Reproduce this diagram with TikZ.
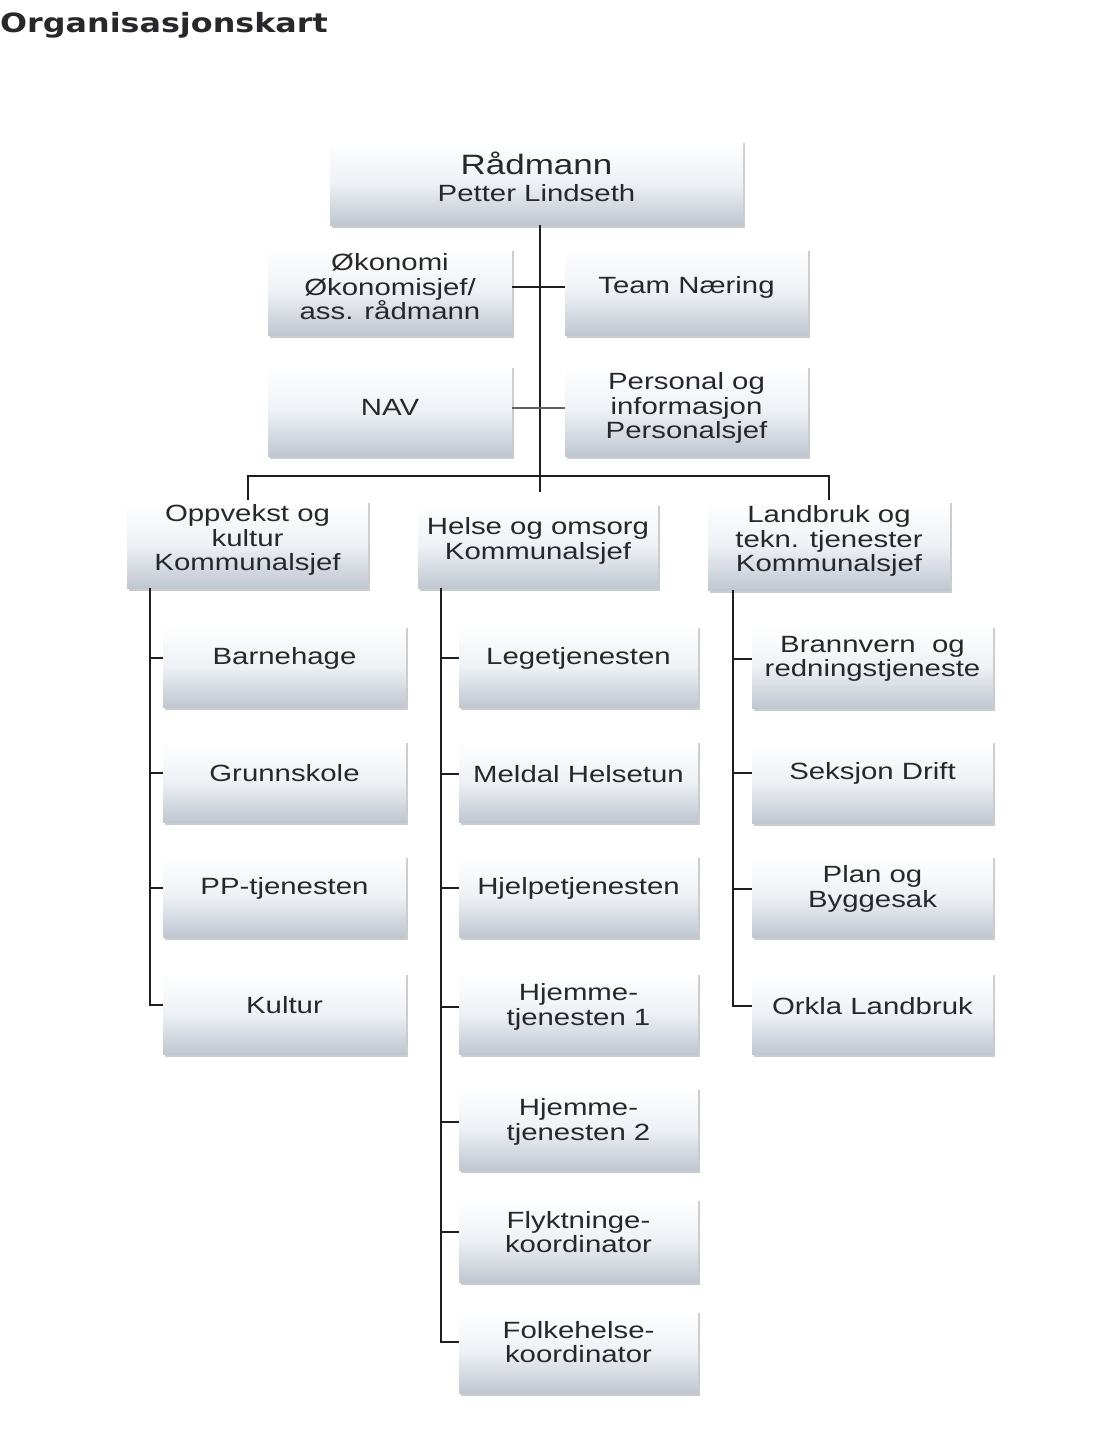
\documentclass[tikz,border=0pt]{standalone}
\usepackage{fontspec}
\setmainfont{Liberation Sans}[FakeStretch=1.25]
\newfontfamily\titlefont{DejaVu Sans}[FakeStretch=1.2]
\usetikzlibrary{shadows,calc}
\definecolor{boxbot}{RGB}{192,199,209}
\definecolor{boxmid}{RGB}{238,241,245}
\definecolor{txtcol}{RGB}{40,40,44}
\definecolor{linecol}{RGB}{30,30,30}
\tikzset{
  obox/.style={draw=none, rectangle, inner sep=0pt,
    top color=white, bottom color=boxbot, middle color=boxmid,
    drop shadow={shadow xshift=1.5pt, shadow yshift=-2.5pt, fill=black!45, opacity=.45}},
  otxt/.style={align=center, text=txtcol, inner sep=0pt,
    font=\fontsize{23.5}{24.5}\selectfont},
  trunk/.style={draw=linecol, line width=2.6pt},
  branch/.style={draw=linecol, line width=1.8pt},
}
\newcommand\orgbox[7]{%
  \node[obox, minimum width={(#4-#2)*1pt}, minimum height={(#5-#3)*1pt}]
    (#1) at ({(#2+#4)/2},{(#3+#5)/2}) {};
  \node[otxt] (#1-t) at ({(#2+#4)/2},#6) {#7};
}
\begin{document}
\begin{tikzpicture}[x=1pt,y=-1pt]
\useasboundingbox[fill=white] (0,0) rectangle (1111,1451);

% title
\node[anchor=base west, inner sep=0pt, text=txtcol,
  font=\titlefont\bfseries\fontsize{26.5}{28}\selectfont] (title) at (0,32) {Organisasjonskart};

% top
\node[obox, minimum width=413pt, minimum height=85pt] (radmann) at (536.5,182.5) {};
\node[otxt] (radmann-t) at (536.5,177)
  {{\fontsize{28}{28}\selectfont Rådmann}\\[3pt]Petter Lindseth};

\orgbox{okonomi}{268}{248}{512}{335}{287}{Økonomi\\Økonomisjef/\\ass. rådmann}
\orgbox{team}{565}{248}{808}{335}{287}{Team Næring}
\orgbox{nav}{268}{365}{512}{456}{407}{NAV}
\orgbox{personal}{565}{365}{808}{456}{408}{Personal og\\informasjon\\Personalsjef}

% level 2
\orgbox{oppvekst}{127}{500}{368}{588}{540}{Oppvekst og\\kultur\\Kommunalsjef}
\orgbox{helse}{418}{503}{658}{588}{541}{Helse og omsorg\\Kommunalsjef}
\orgbox{landbruk}{708}{500}{950}{590}{541}{Landbruk og\\tekn. tjenester\\Kommunalsjef}

% left column
\orgbox{barnehage}{163}{625}{406}{707}{658}{Barnehage}
\orgbox{grunnskole}{163}{740}{406}{822}{773}{Grunnskole}
\orgbox{pp}{163}{855}{406}{937}{888}{PP-tjenesten}
\orgbox{kultur}{163}{972}{406}{1054}{1005}{Kultur}

% middle column
\orgbox{lege}{459}{625}{698}{707}{658}{Legetjenesten}
\orgbox{meldal}{459}{740}{698}{822}{774}{Meldal Helsetun}
\orgbox{hjelpe}{459}{855}{698}{937}{888}{Hjelpetjenesten}
\orgbox{hjemme1}{459}{972}{698}{1054}{1007}{Hjemme-\\tjenesten 1}
\orgbox{hjemme2}{459}{1087}{698}{1170}{1122}{Hjemme-\\tjenesten 2}
\orgbox{flykt}{459}{1198}{698}{1282}{1232}{Flyktninge-\\koordinator}
\orgbox{folke}{459}{1310}{698}{1393}{1342}{Folkehelse-\\koordinator}

% right column
\orgbox{brann}{752}{625}{993}{708}{659}{Brannvern\ \ og\\redningstjeneste}
\orgbox{seksjon}{752}{740}{993}{823}{773}{Seksjon Drift}
\orgbox{plan}{752}{855}{993}{937}{889}{Plan og\\Byggesak}
\orgbox{orkla}{752}{972}{993}{1054}{1006}{Orkla Landbruk}

% connectors
\coordinate (mainx) at (540,0);
\coordinate (mainbot) at (540,492);
\coordinate (barL) at (248,476);
\coordinate (barR) at (829,476);
\coordinate (tl) at (150,0);
\coordinate (tm) at (441,0);
\coordinate (tr) at (733,0);

\draw[trunk] (mainx |- radmann.south) -- (mainbot);
\draw[branch] (okonomi.east |- team-t) -- (team.west |- team-t);
\draw[branch, draw=linecol!70] (nav.east |- personal-t) -- (personal.west |- personal-t);
\draw[branch] (barL |- oppvekst.north) -- (barL) -- (barR) -- (barR |- landbruk.north);

\draw[trunk] (tl |- oppvekst.south) -- (tl |- kultur-t) -- (kultur.west |- kultur-t);
\foreach \n in {barnehage,grunnskole,pp}
  \draw[branch] (tl |- \n-t) -- (\n.west |- \n-t);

\draw[trunk] (tm |- helse.south) -- (tm |- folke-t) -- (folke.west |- folke-t);
\foreach \n in {lege,meldal,hjelpe,hjemme1,hjemme2,flykt}
  \draw[branch] (tm |- \n-t) -- (\n.west |- \n-t);

\draw[trunk] (tr |- landbruk.south) -- (tr |- orkla-t) -- (orkla.west |- orkla-t);
\foreach \n in {brann,seksjon,plan}
  \draw[branch] (tr |- \n-t) -- (\n.west |- \n-t);
\end{tikzpicture}
\end{document}
